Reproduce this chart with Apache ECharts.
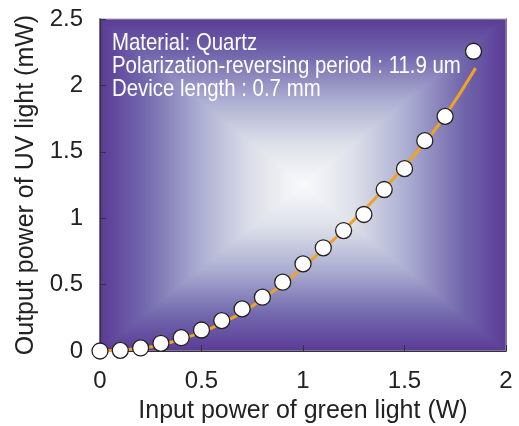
<!DOCTYPE html>
<html><head><meta charset="utf-8">
<script src="https://cdn.jsdelivr.net/npm/echarts@6/dist/echarts.min.js"></script>
<style>html,body{margin:0;padding:0;background:#fff}#c{width:519px;height:426px}</style>
</head><body><div id="c"></div>
<script>
// Data
var inputPower = [0, 0.1, 0.2, 0.3, 0.4, 0.5, 0.6, 0.7, 0.8, 0.9, 1.0, 1.1, 1.2, 1.3, 1.4, 1.5, 1.6, 1.7, 1.84];
var outputPower = [0, 0.005, 0.023, 0.058, 0.10, 0.158, 0.229, 0.317, 0.405, 0.518, 0.656, 0.777, 0.907, 1.028, 1.216, 1.373, 1.584, 1.767, 2.257];
var fitX = [0, 0.2, 0.4, 0.6, 0.8, 1.0, 1.2, 1.4, 1.6, 1.7, 1.85];
var fitY = [0, 0.02, 0.09, 0.21, 0.39, 0.63, 0.91, 1.22, 1.57, 1.77, 2.13];
var xTicks = [0, 0.5, 1, 1.5, 2];
var yTicks = [0, 0.5, 1, 1.5, 2, 2.5];
var notes = ['Material: Quartz', 'Polarization-reversing period : 11.9 um', 'Device length : 0.7 mm'];

var G = {left: 100, top: 19, right: 13, bottom: 75};
var W = 519, H = 426;
var x0 = G.left, y0 = G.top, x1 = W - G.right, y1 = H - G.bottom;
var cx = (x0 + x1) / 2, cy = (y0 + y1) / 2;
var half = [
  {offset: 0, color: '#5a3b96'},
  {offset: 0.22, color: '#7268ad'},
  {offset: 0.5, color: '#aeb0d3'},
  {offset: 0.75, color: '#dde0e9'},
  {offset: 1, color: '#fafafb'}
];
function mirrored() {
  var s = half.map(function (c) { return {offset: c.offset / 2, color: c.color}; });
  for (var i = half.length - 2; i >= 0; i--) s.push({offset: 1 - half[i].offset / 2, color: half[i].color});
  return s;
}
function grad(ax, ay, bx, by, st) {
  return {type: 'linear', global: true, x: ax, y: ay, x2: bx, y2: by, colorStops: st};
}
var bg = [
  {type: 'rect', shape: {x: x0, y: y0, width: x1 - x0, height: y1 - y0}, style: {fill: grad(0, y0, 0, y1, mirrored())}},
  {type: 'polygon', shape: {points: [[x0 - 1, y0 - 1], [x0 - 1, y1 + 1], [cx, cy]]}, style: {fill: grad(x0, 0, cx, 0, half)}},
  {type: 'polygon', shape: {points: [[x1 + 1, y0 - 1], [x1 + 1, y1 + 1], [cx, cy]]}, style: {fill: grad(x1, 0, cx, 0, half)}}
].map(function (e, i) { e.z = -10 + i; e.silent = true; e.style.lineWidth = 0; return e; });

notes.forEach(function (t, i) {
  bg.push({type: 'text', z: 5, x: 112, y: 31 + i * 23, scaleX: 0.85, silent: true,
    style: {text: t, x: 0, y: 0, fill: '#fff', font: '24px "Liberation Sans", Arial, sans-serif', verticalAlign: 'top', align: 'left'}});
});

var chart = echarts.init(document.getElementById('c'));
chart.setOption({
  animation: false,
  backgroundColor: '#fff',
  grid: {left: G.left, top: G.top, right: G.right, bottom: G.bottom, outerBoundsMode: 'none', containLabel: false,
    show: true, borderColor: '#a8a8a8', borderWidth: 1, backgroundColor: 'transparent'},
  graphic: bg,
  xAxis: {
    type: 'value', min: 0, max: 2, interval: 0.5,
    name: 'Input power of green light (W)', nameLocation: 'middle', nameGap: 48,
    nameTextStyle: {fontFamily: 'Liberation Sans', fontSize: 25, color: '#222'},
    axisLine: {lineStyle: {color: '#333', width: 1.2}},
    axisTick: {inside: true, length: 6, lineStyle: {color: '#333'}},
    axisLabel: {fontFamily: 'Liberation Sans', fontSize: 24, color: '#222', margin: 18},
    splitLine: {show: false}
  },
  yAxis: {
    type: 'value', min: 0, max: 2.5, interval: 0.5,
    name: 'Output power of UV light (mW)', nameLocation: 'middle', nameGap: 55,
    nameTextStyle: {fontFamily: 'Liberation Sans', fontSize: 25, color: '#222'},
    axisLine: {lineStyle: {color: '#333', width: 1.2}},
    axisTick: {inside: true, length: 6, lineStyle: {color: '#333'}},
    axisLabel: {fontFamily: 'Liberation Sans', fontSize: 24, color: '#222', margin: 17},
    splitLine: {show: false}
  },
  series: [
    {type: 'line', data: fitX.map(function (x, i) { return [x, fitY[i]]; }), smooth: true, showSymbol: false,
      lineStyle: {color: '#f0a128', width: 3}, z: 3, clip: false},
    {type: 'scatter', data: inputPower.map(function (x, i) { return [x, outputPower[i]]; }),
      symbol: 'circle', symbolSize: 16, clip: false,
      itemStyle: {color: '#fff', borderColor: '#222', borderWidth: 1.3, opacity: 1}, z: 4}
  ]
});
</script></body></html>
